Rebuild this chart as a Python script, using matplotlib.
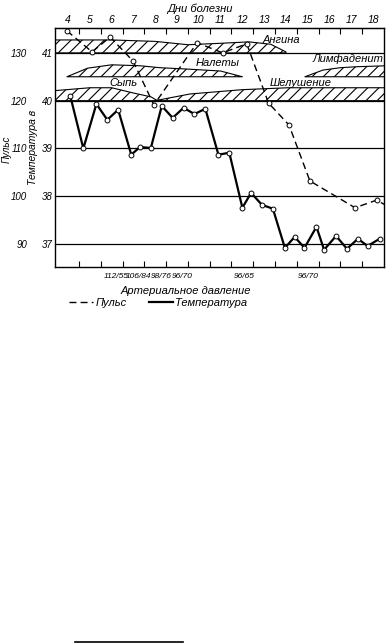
import numpy as np
import matplotlib
matplotlib.use("Agg")
import matplotlib.pyplot as plt
from matplotlib.lines import Line2D

plt.rcParams['font.family'] = ['Liberation Sans', 'DejaVu Sans']
plt.rcParams['font.style'] = 'italic'
plt.rcParams['hatch.linewidth'] = 0.8

# температура (утро/вечер), день болезни -> °C
temp_days = [4.1, 4.7, 5.3, 5.8, 6.3, 6.9, 7.3, 7.8, 8.3, 8.8, 9.3, 9.8, 10.3, 10.9, 11.4,
             12.0, 12.4, 12.9, 13.4, 13.95, 14.4, 14.85, 15.4, 15.75, 16.3, 16.8, 17.3, 17.75, 18.3]
temp_vals = [40.1, 39.0, 39.93, 39.6, 39.81, 38.87, 39.03, 39.01, 39.89, 39.64, 39.85, 39.72, 39.83, 38.87, 38.91,
             37.76, 38.07, 37.82, 37.74, 36.92, 37.15, 36.92, 37.36, 36.88, 37.17, 36.9, 37.11, 36.96, 37.11]

# пульс
pulse_days = [3.95, 5.1, 5.93, 6.98, 7.94, 9.92, 11.1, 12.2, 13.2, 14.14, 15.1, 17.17, 18.17, 19.0]
pulse_vals = [134.6, 130.2, 133.3, 128.3, 119.1, 132.1, 130.0, 131.9, 119.5, 114.9, 103.2, 97.6, 99.2, 97.0]

# симптомы: дни и верхняя граница полосы (в шкале температуры)
angina_days = [3.4, 6.0, 8.0, 9.5, 11.0, 12.3, 13.3, 14.0]
angina_top = [41.27, 41.27, 41.24, 41.17, 41.2, 41.23, 41.18, 41.02]
angina_bot = 41.0

nalety_days = [3.95, 4.9, 6.0, 7.3, 8.2, 9.5, 11.0, 12.0]
nalety_top = [40.5, 40.68, 40.75, 40.73, 40.69, 40.66, 40.62, 40.5]
nalety_bot = 40.5

lymph_days = [14.87, 15.7, 16.5, 17.26, 18.6]
lymph_top = [40.5, 40.64, 40.69, 40.71, 40.73]
lymph_bot = 40.5

rash_days = [3.4, 5.0, 6.0, 7.0, 7.8, 8.1]
rash_top = [40.21, 40.27, 40.27, 40.16, 40.08, 40.0]
peel_days = [8.0, 8.8, 9.6, 12.0, 14.1, 18.6]
peel_top = [40.0, 40.07, 40.14, 40.23, 40.27, 40.27]
band_bot = 40.0

day_ticks = list(range(4, 19))
temp_ticks = [37, 38, 39, 40, 41]
pulse_ticks = [90, 100, 110, 120, 130]
pressure_days = [6.2, 7.25, 8.25, 9.25, 12.1, 15.0]
pressure_labels = ['112/55', '106/84', '98/76', '96/70', '96/65', '96/70']


def t_of_p(p):
    return (np.asarray(p) + 280) / 10.0


def p_of_t(t):
    return np.asarray(t) * 10.0 - 280


W, H = 386, 643
fig = plt.figure(figsize=(W / 100, H / 100), dpi=100)
ax = fig.add_axes([55 / W, 1 - 267 / H, (384 - 55) / W, (267 - 28) / H])
ax.set_xlim(3.4, 18.5)
ax.set_ylim(36.52, 41.52)

for t in temp_ticks:
    ax.axhline(t, color='black', lw=0.9, zorder=1)

bands = [(angina_days, angina_top, angina_bot), (nalety_days, nalety_top, nalety_bot),
         (lymph_days, lymph_top, lymph_bot), (rash_days, rash_top, band_bot),
         (peel_days, peel_top, band_bot)]
for d, top, bot in bands:
    ax.fill_between(d, bot, top, facecolor='white', edgecolor='black', hatch='///', lw=0.8, zorder=2)

pl, = ax.plot(pulse_days, t_of_p(pulse_vals), color='black', lw=1.0, dashes=(5, 3),
              marker='o', ms=3.5, mfc='white', mec='black', mew=0.7, zorder=4)
tl, = ax.plot(temp_days, temp_vals, color='black', lw=1.6,
              marker='o', ms=3.5, mfc='white', mec='black', mew=0.7, zorder=5)

lab = dict(fontsize=8, ha='center', va='center', zorder=6)
ax.text(13.8, 41.27, 'Ангина', **lab)
ax.text(10.85, 40.79, 'Налеты', **lab)
ax.text(16.84, 40.87, 'Лимфаденит', **lab)
ax.text(14.69, 40.37, 'Шелушение', **lab)
ax.text(6.52, 40.37, 'Сыпь', **lab)

for s in ax.spines.values():
    s.set_linewidth(1.0)

# деления по полудням
ax.set_xticks(np.arange(4.5, 18, 1.0))
ax.set_xticklabels([])
ax.tick_params(axis='x', direction='in', length=4, width=0.8, top=True)

ax.set_yticks(temp_ticks)
ax.tick_params(axis='y', length=0, pad=1.5, labelsize=7)

pax = ax.secondary_yaxis('left', functions=(p_of_t, t_of_p))
pax.set_yticks(pulse_ticks)
pax.tick_params(axis='y', length=0, pad=20, labelsize=7)
pax.spines['left'].set_visible(False)

top = ax.secondary_xaxis('top')
top.set_xticks(day_ticks)
top.tick_params(axis='x', length=0, pad=2, labelsize=7.5)

bot = ax.secondary_xaxis('bottom')
bot.set_xticks(pressure_days)
bot.set_xticklabels(pressure_labels)
bot.tick_params(axis='x', length=0, pad=4, labelsize=6)
bot.spines['bottom'].set_visible(False)

fig.text(200 / W, 1 - 9 / H, 'Дни болезни', fontsize=8, ha='center', va='center')
fig.text(186 / W, 1 - 291 / H, 'Артериальное давление', fontsize=8, ha='center', va='center')
fig.text(7 / W, 1 - 149 / H, 'Пульс', fontsize=7, rotation=90, ha='center', va='center')
fig.text(33 / W, 1 - 147 / H, 'Температура в', fontsize=7.5, rotation=90, ha='center', va='center')

fig.legend([pl, tl], ['Пульс', 'Температура'], loc='center', bbox_to_anchor=(158 / W, 1 - 303 / H),
           ncol=2, frameon=False, fontsize=8, handlelength=2.2, handletextpad=0.2, columnspacing=2.0,
           borderpad=0, markerscale=0)

fig.add_artist(Line2D([75 / W, 183 / W], [1 - 641.5 / H, 1 - 641.5 / H], color='black', lw=1.2))

fig.savefig('out.png', dpi=100)
